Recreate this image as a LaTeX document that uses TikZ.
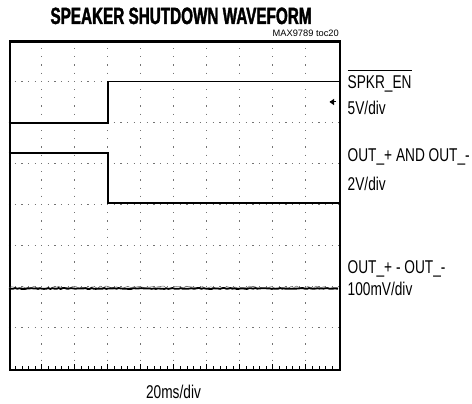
\documentclass[tikz,border=0pt]{standalone}
\usepackage{fontspec}
\setmainfont{Liberation Sans}
\newfontfamily\condfont[FakeStretch=0.74]{Liberation Sans}
\newfontfamily\headfont[FakeStretch=0.65, FakeBold=1.6]{Liberation Sans Bold}
\usetikzlibrary{positioning,arrows,calc}

\begin{document}
\begin{tikzpicture}[>=latex, x=1pt, y=-1pt,
  trace/.style={line width=1.8pt},
  lbl/.style={font=\condfont\fontsize{18.5}{21}\selectfont, inner sep=0pt, anchor=base west},
  hdots/.style={black!55, line width=1.2pt, dash pattern=on 1.2pt off 5.4pt, dash phase=0.6pt},
  vdots/.style={black!55, line width=1.2pt, dash pattern=on 1.2pt off 7pt, dash phase=0.6pt}]
\useasboundingbox (0,0) rectangle (472,404);

% screen grid
\foreach \i in {1,...,9}
  \draw[vdots] (8.7+33*\i,40.5) -- (8.7+33*\i,368.5);
\foreach \j in {1,...,7}
  \draw[hdots] (8.7,40.5+41*\j) -- (338.7,40.5+41*\j);
\foreach \k in {1,...,49}
  \draw[line width=0.6pt] (8.7+6.6*\k,368.5) -- ++(0,-2.5);
\foreach \i in {1,...,9}
  \draw[line width=0.6pt] (8.7+33*\i,368.5) -- ++(0,-5);
\node[draw, line width=2.4pt, inner sep=0pt, minimum width=330pt, minimum height=328pt,
  anchor=north west] (screen) at (8.7,40.5) {};

% traces
\draw[trace] (screen.west |- 0,122.7) -- (107.7,122.7) -- (107.7,81.5) -- (screen.east |- 0,81.5);
\draw[trace] (screen.west |- 0,153.3) -- (107.7,153.3) -- (107.7,203) -- (screen.east |- 0,203);
\pgfmathsetseed{7}
\draw[black!55, line width=0.5pt] plot[domain=9:338, samples=120] (\x,{287.3+1.2*rand});
\draw[trace] plot[domain=9:338, samples=160] (\x,{288.5+0.5*rand});
% ground marker
\coordinate (gnd) at (329.5,102);
\fill (gnd) -- ++(4.5,-3.2) -- ++(0,6.4) -- cycle;
\draw[line width=1pt] (gnd) -- ++(6.5,0);

% labels
\node[font=\headfont\fontsize{23.5}{26}\selectfont, inner sep=0pt, anchor=base west] (title) at (50.3,24) {SPEAKER SHUTDOWN WAVEFORM};
\node[font=\fontsize{9.3}{11}\selectfont, inner sep=0pt, anchor=base east] (tag) at (339,36.5) {MAX9789 toc20};
\node[lbl] (spkr) at (347.5,89) {SPKR\_EN};
\draw[line width=0.7pt] ([yshift=6pt]spkr.north west) -- ([yshift=6pt]spkr.north east);
\node[lbl, below=25pt of spkr.base west, anchor=base west] (spkrdiv) {5V/div};
\node[lbl] (out) at (347.5,161) {OUT\_+ AND OUT\_-};
\node[lbl, below=29pt of out.base west, anchor=base west] (outdiv) {2V/div};
\node[lbl] (diff) at (347.5,273) {OUT\_+ - OUT\_-};
\node[lbl, below=22pt of diff.base west, anchor=base west] (diffdiv) {100mV/div};
\node[lbl, anchor=base] (time) at (173.5,398) {20ms/div};
\end{tikzpicture}
\end{document}
